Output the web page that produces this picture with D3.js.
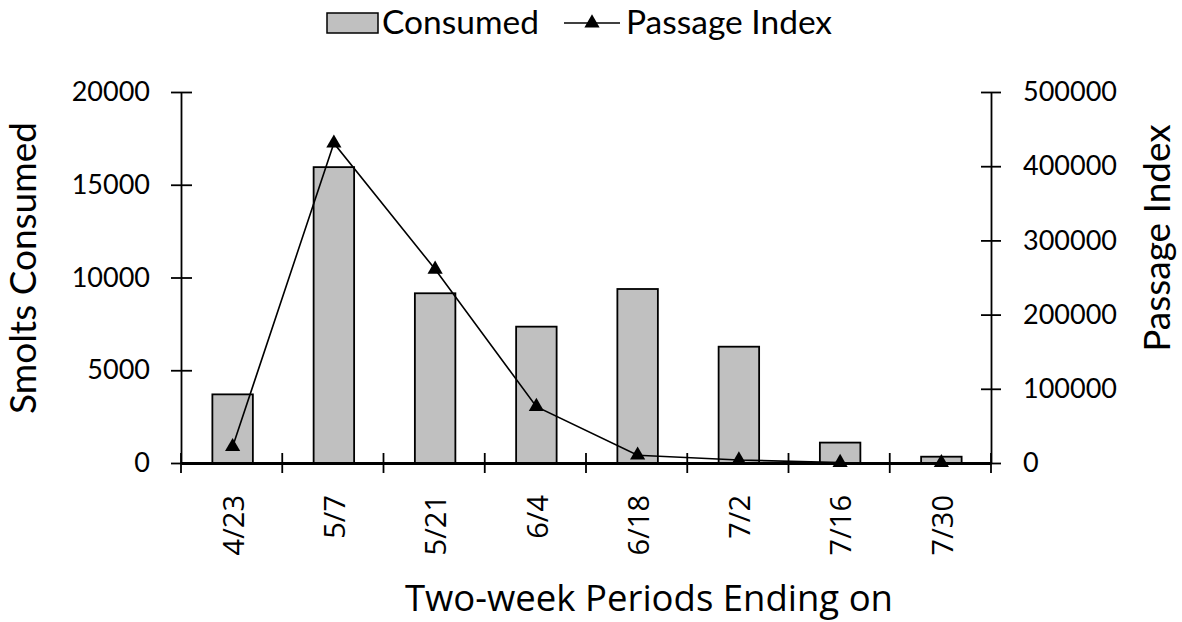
<!DOCTYPE html>
<html>
<head>
<meta charset="utf-8">
<script src="https://cdn.jsdelivr.net/npm/d3@7"></script>
<style>
  body { margin: 0; background: #fff; }
  svg { display: block; }
  .axis path, .axis line { stroke: #000; }
  .axis text { fill: #000; }
</style>
</head>
<body>
<div id="chart"></div>
<script>
"use strict";

var width = 1182;
var height = 622;

var periods = ["4/23", "5/7", "5/21", "6/4", "6/18", "7/2", "7/16", "7/30"];
var consumed = [3700, 15950, 9150, 7350, 9380, 6270, 1100, 340];
var passage = [22000, 431000, 261000, 76000, 10500, 4000, 600, 400];
var leftTicks = [0, 5000, 10000, 15000, 20000];
var rightTicks = [0, 100000, 200000, 300000, 400000, 500000];

var plotLeft = 181, plotRight = 991, plotTop = 92, plotBottom = 463;

var xScale = d3.scaleBand()
               .domain(periods)
               .range([plotLeft, plotRight]);

var yLeft = d3.scaleLinear()
              .domain([0, 20000])
              .range([plotBottom, plotTop]);

var yRight = d3.scaleLinear()
               .domain([0, 500000])
               .range([plotBottom, plotTop]);

var svg = d3.select("#chart")
            .append("svg")
            .attr("width", width)
            .attr("height", height);

// bars
var barW = xScale.bandwidth() * 0.4;
svg.selectAll("rect.bar")
   .data(consumed)
   .enter()
   .append("rect")
   .attr("class", "bar")
   .attr("x", function(d, i) { return xScale(periods[i]) + xScale.bandwidth() / 2 - barW / 2 + 1; })
   .attr("y", function(d) { return yLeft(d); })
   .attr("width", barW)
   .attr("height", function(d) { return plotBottom - yLeft(d); })
   .attr("fill", "#c0c0c0")
   .attr("stroke", "#000")
   .attr("stroke-width", 1.8);

// left axis
var leftAxis = svg.append("g")
   .attr("class", "axis")
   .attr("transform", "translate(" + plotLeft + ",0)")
   .call(d3.axisLeft(yLeft).tickValues(leftTicks).tickFormat(d3.format("d")).tickSizeOuter(0).tickPadding(25));
leftAxis.selectAll(".tick line").attr("x1", -10).attr("x2", 11).attr("stroke-width", 1.8);
leftAxis.select(".domain").attr("stroke-width", 1.8);
leftAxis.selectAll("text")
   .style("font-family", "Lato")
   .style("font-size", "27px");

// right axis
var rightAxis = svg.append("g")
   .attr("class", "axis")
   .attr("transform", "translate(" + plotRight + ",0)")
   .call(d3.axisRight(yRight).tickValues(rightTicks).tickFormat(d3.format("d")).tickSizeOuter(0).tickPadding(26));
rightAxis.selectAll(".tick line").attr("x1", -10).attr("x2", 10).attr("stroke-width", 1.8);
rightAxis.select(".domain").attr("stroke-width", 1.8);
rightAxis.selectAll("text")
   .style("font-family", "Lato")
   .style("font-size", "27px");

// x axis
var xAxis = svg.append("g")
   .attr("class", "axis")
   .attr("transform", "translate(0," + plotBottom + ")")
   .call(d3.axisBottom(xScale).tickSize(0).tickSizeOuter(0));
xAxis.select(".domain").attr("stroke-width", 3);
xAxis.selectAll("text")
   .attr("transform", "rotate(-90)")
   .attr("x", -32)
   .attr("y", 2)
   .attr("dy", "0.35em")
   .attr("dx", 0)
   .style("text-anchor", "end")
   .style("font-family", "Open Sans")
   .style("font-size", "29px");

// boundary ticks on x axis
var bounds = periods.map(function(p) { return xScale(p); }).concat([plotRight]);
xAxis.selectAll("line.bound")
   .data(bounds)
   .enter()
   .append("line")
   .attr("class", "bound")
   .attr("x1", function(d) { return d; })
   .attr("x2", function(d) { return d; })
   .attr("y1", -10)
   .attr("y2", 10)
   .attr("stroke", "#000")
   .attr("stroke-width", 1.8);

// passage index line
var line = d3.line()
   .x(function(d, i) { return xScale(periods[i]) + xScale.bandwidth() / 2 + 1; })
   .y(function(d) { return yRight(d); });

svg.append("path")
   .datum(passage)
   .attr("d", line)
   .attr("fill", "none")
   .attr("stroke", "#000")
   .attr("stroke-width", 1.6);

svg.selectAll("path.marker")
   .data(passage)
   .enter()
   .append("path")
   .attr("class", "marker")
   .attr("d", d3.symbol().type(d3.symbolTriangle).size(100))
   .attr("transform", function(d, i) {
      return "translate(" + (xScale(periods[i]) + xScale.bandwidth() / 2 + 1) + "," + yRight(d) + ")";
   })
   .attr("fill", "#000");

// axis titles
svg.append("text")
   .attr("transform", "translate(36,268) rotate(-90)")
   .attr("text-anchor", "middle")
   .style("font-family", "Lato")
   .style("font-size", "37px")
   .text("Smolts Consumed");

svg.append("text")
   .attr("transform", "translate(1170,238) rotate(-90)")
   .attr("text-anchor", "middle")
   .style("font-family", "Lato")
   .style("font-size", "37px")
   .text("Passage Index");

svg.append("text")
   .attr("x", 649)
   .attr("y", 611)
   .attr("text-anchor", "middle")
   .style("font-family", "Open Sans")
   .style("font-size", "36.5px")
   .text("Two-week Periods Ending on");

// legend
var legend = svg.append("g");
legend.append("rect")
   .attr("x", 327).attr("y", 13)
   .attr("width", 51).attr("height", 20)
   .attr("fill", "#c0c0c0")
   .attr("stroke", "#000")
   .attr("stroke-width", 1.5);
legend.append("text")
   .attr("x", 382).attr("y", 34)
   .style("font-family", "Lato")
   .style("font-size", "33.5px")
   .text("Consumed");
legend.append("line")
   .attr("x1", 564).attr("x2", 620)
   .attr("y1", 23).attr("y2", 23)
   .attr("stroke", "#000")
   .attr("stroke-width", 1.6);
legend.append("path")
   .attr("d", d3.symbol().type(d3.symbolTriangle).size(100))
   .attr("transform", "translate(592,23)")
   .attr("fill", "#000");
legend.append("text")
   .attr("x", 626).attr("y", 34)
   .style("font-family", "Lato")
   .style("font-size", "33.5px")
   .text("Passage Index");
</script>
</body>
</html>
